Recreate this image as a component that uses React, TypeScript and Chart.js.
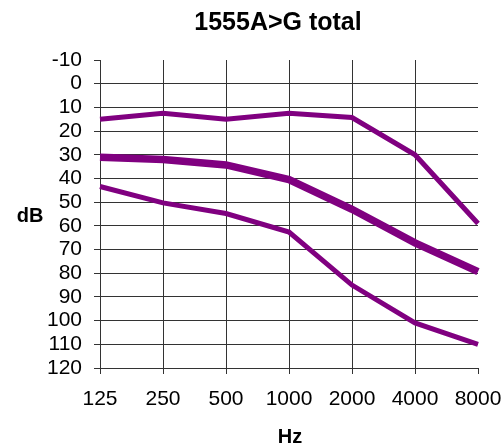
import React, { useEffect, useRef } from "react";
import { Chart, registerables } from "chart.js";

Chart.register(...registerables);

const frequencies = ["125", "250", "500", "1000", "2000", "4000", "8000"];
const upperLine = [15, 12.5, 15, 12.5, 14.3, 30, 59];
const middleLine = [31, 32, 34.3, 40.5, 53, 67.2, 79.3];
const lowerLine = [43.4, 50.3, 54.8, 62.6, 85, 101, 110];
const yMin = -10;
const yMax = 120;
const titleText = "1555A>G total";
const xTitle = "Hz";
const yTitle = "dB";

const PURPLE = "#800080";

export default function App() {
  const ref = useRef<HTMLCanvasElement | null>(null);
  useEffect(() => {
    document.body.style.margin = "0";
    const canvas = ref.current!;
    const textPlugin = {
      id: "texts",
      afterDraw(chart: any) {
        const ctx = chart.ctx;
        ctx.save();
        ctx.fillStyle = "#000";
        ctx.textAlign = "center";
        ctx.textBaseline = "middle";
        ctx.font = "bold 25px Arial, 'Liberation Sans', sans-serif";
        ctx.fillText(titleText, 278, 23);
        ctx.font = "bold 20px Arial, 'Liberation Sans', sans-serif";
        ctx.fillText(yTitle, 30, 216);
        ctx.fillText(xTitle, 290, 437);
        ctx.restore();
      },
    };
    const chart = new Chart(canvas, {
      type: "line",
      data: {
        labels: frequencies,
        datasets: [
          { data: upperLine, borderColor: PURPLE, borderWidth: 5, pointRadius: 0, tension: 0 },
          { data: middleLine, borderColor: PURPLE, borderWidth: 7.5, pointRadius: 0, tension: 0 },
          { data: lowerLine, borderColor: PURPLE, borderWidth: 5, pointRadius: 0, tension: 0 },
        ],
      },
      options: {
        responsive: false,
        animation: false,
        layout: { padding: { top: 60, right: 26, left: 0, bottom: 0 } },
        plugins: { legend: { display: false }, tooltip: { enabled: false }, title: { display: false } },
        scales: {
          x: {
            type: "category",
            offset: false,
            afterFit(scale: any) {
              scale.height = 79;
              scale.paddingRight = 0;
              scale.paddingLeft = 0;
            },
            grid: {
              color: (c: any) => (c.index === frequencies.length - 1 ? "rgba(0,0,0,0)" : "#333"),
              tickColor: "#333",
              tickLength: 6,
              lineWidth: 1,
            },
            border: { display: true, color: "#333" },
            ticks: {
              color: "#000",
              font: { family: "Arial, 'Liberation Sans', sans-serif", size: 21 },
              padding: 13,
              maxRotation: 0,
              autoSkip: false,
            },
          },
          y: {
            reverse: true,
            min: yMin,
            max: yMax,
            afterFit(scale: any) {
              scale.width = 100;
              scale.paddingTop = 0;
              scale.paddingBottom = 0;
            },
            grid: {
              color: (c: any) => (c.tick && c.tick.value === yMin ? "rgba(0,0,0,0)" : "#333"),
              tickColor: "#333",
              tickLength: 6,
              lineWidth: 1,
            },
            border: { display: true, color: "#333" },
            ticks: {
              stepSize: 10,
              autoSkip: false,
              color: "#000",
              font: { family: "Arial, 'Liberation Sans', sans-serif", size: 21 },
              padding: 12,
            },
          },
        },
      },
      plugins: [textPlugin],
    } as any);
    return () => chart.destroy();
  }, []);
  return (
    <div style={{ position: "absolute", left: 0, top: 0, width: 504, height: 447 }}>
      <canvas ref={ref} width={504} height={447} style={{ width: 504, height: 447 }} />
    </div>
  );
}
